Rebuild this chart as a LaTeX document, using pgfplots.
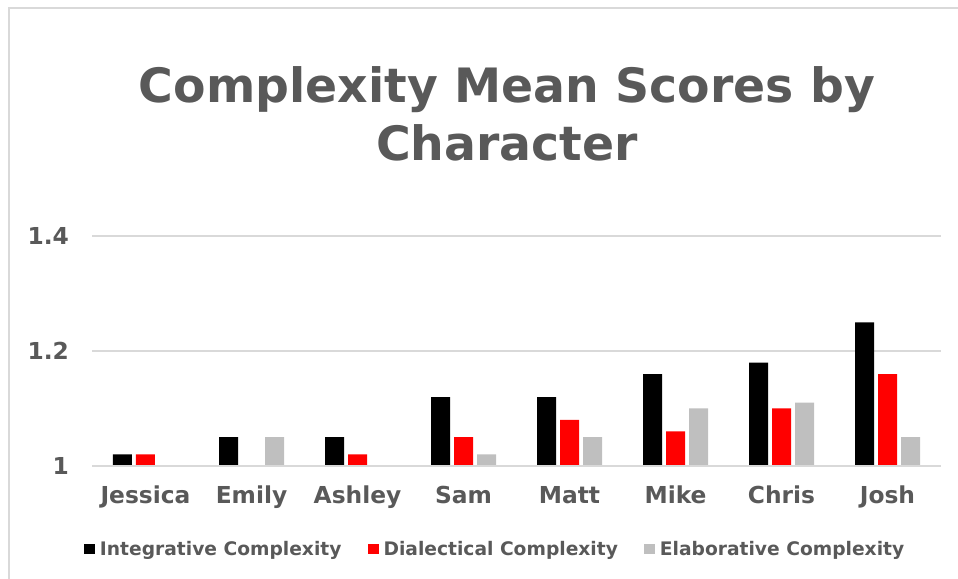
\documentclass[border=0pt]{standalone}
\usepackage{pgfplots}
\pgfplotsset{compat=1.18}
\usepackage{fontspec}
\setmainfont{DejaVu Sans}
\definecolor{txt}{HTML}{595959}
\definecolor{gridc}{HTML}{D9D9D9}
\definecolor{ggray}{HTML}{BFBFBF}
\begin{document}
\begin{tikzpicture}[x=0.75pt,y=0.75pt]
\path[use as bounding box] (0,0) rectangle (958,579);
\draw[gridc,line width=1pt] (9,0) -- (9,571) -- (958,571);
\node[anchor=base,text=txt,font=\bfseries\fontsize{35.5}{40}\selectfont,inner sep=0] at (507,476) {Complexity Mean Scores by};
\node[anchor=base,text=txt,font=\bfseries\fontsize{35.5}{40}\selectfont,inner sep=0] at (507,418) {Character};
\begin{axis}[
  at={(69.375pt,84.75pt)}, anchor=south west,
  scale only axis, width=636pt, height=172.5pt,
  xmin=-0.5, xmax=7.5, ymin=1, ymax=1.4,
  ybar=3pt, bar width=14.25pt,
  xtick={0,...,7},
  xticklabels={Jessica,Emily,Ashley,Sam,Matt,Mike,Chris,Josh},
  ytick={1,1.2,1.4}, yticklabels={1,1.2,1.4},
  /pgf/number format/assume math mode=true,
  major tick length=0pt,
  axis line style={draw=none},
  ymajorgrids, grid style={draw=gridc,line width=1.2pt},
  xticklabel style={anchor=base,yshift=-28pt,inner sep=0pt,text=txt,font=\bfseries\fontsize{17.5}{20}\selectfont},
  yticklabel style={anchor=east,xshift=-17.5pt,inner sep=0pt,text=txt,font=\bfseries\fontsize{17.5}{20}\selectfont},
  legend columns=3,
  legend style={at={(-0.01,-0.361)},anchor=west,draw=none,fill=none,inner sep=0pt,
    font=\bfseries\fontsize{14}{16}\selectfont,text=txt,
    /tikz/every even column/.append style={column sep=16.25pt},
    /tikz/every odd column/.append style={column sep=0pt},
    nodes={inner sep=0pt, inner xsep=3.5pt}},
  legend image code/.code={\fill[#1,draw=none] (0pt,-4.1pt) rectangle (8.25pt,4.1pt);},
  legend cell align=left,
]
\addplot[fill=black,draw=none] coordinates {(0,1.02) (1,1.05) (2,1.05) (3,1.12) (4,1.12) (5,1.16) (6,1.18) (7,1.25)};
\addplot[fill=red,draw=none] coordinates {(0,1.02) (1,1.0) (2,1.02) (3,1.05) (4,1.08) (5,1.06) (6,1.10) (7,1.16)};
\addplot[fill=ggray,draw=none] coordinates {(0,1.0) (1,1.05) (2,1.0) (3,1.02) (4,1.05) (5,1.10) (6,1.11) (7,1.05)};
\legend{Integrative Complexity,Dialectical Complexity,Elaborative Complexity}
\draw[gridc,line width=1.5pt] (rel axis cs:0,0) -- (rel axis cs:1,0);
\end{axis}
\end{tikzpicture}
\end{document}
